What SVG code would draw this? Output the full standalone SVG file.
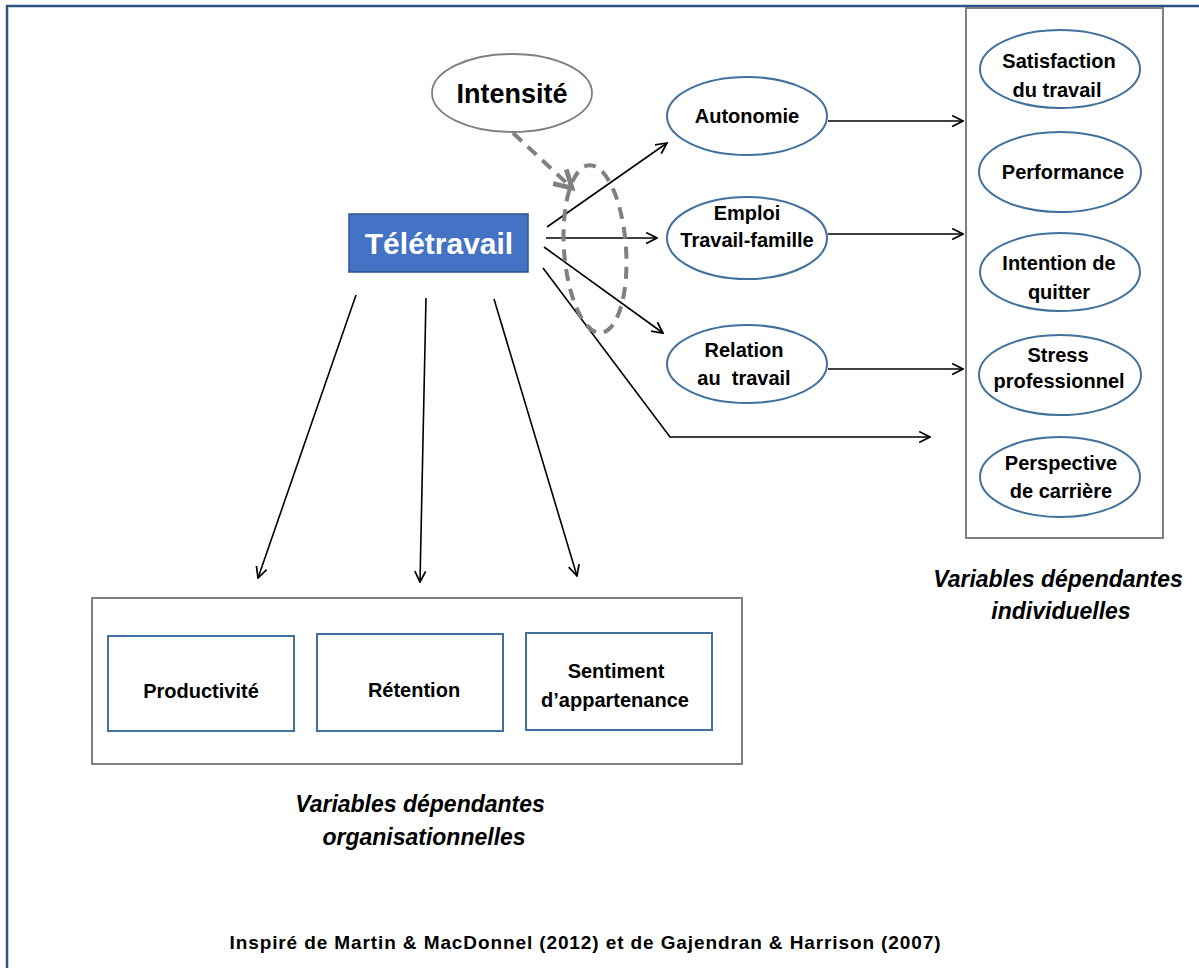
<svg xmlns="http://www.w3.org/2000/svg" width="1199" height="968" viewBox="0 0 1199 968">
<style>
  .lbl { font-family: "Liberation Sans", Arial, sans-serif; font-weight: bold; fill: #000; text-anchor: middle; }
  .s19 { font-size: 20px; }
  .cap { font-family: "Liberation Sans", Arial, sans-serif; font-weight: bold; font-style: italic; font-size: 23px; fill: #000; text-anchor: middle; }
  .ell { fill: #fff; stroke: #41719c; stroke-width: 2; }
  .ibox { fill: #fff; stroke: #41719c; stroke-width: 2; }
  .gbox { fill: none; stroke: #808080; stroke-width: 2; }
  .conn { fill: none; stroke: #000; stroke-width: 1.6; }
  .dash { fill: none; stroke: #808080; stroke-width: 4; stroke-dasharray: 12 8; }
</style>
<defs>
  <marker id="arr" viewBox="0 0 12 12" markerWidth="13" markerHeight="13" refX="11" refY="6" orient="auto" markerUnits="userSpaceOnUse">
    <path d="M1,1 L11,6 L1,11" fill="none" stroke="#000" stroke-width="1.6"/>
  </marker>
  <marker id="garr" viewBox="0 0 20 20" markerWidth="24" markerHeight="24" refX="17" refY="10" orient="auto" markerUnits="userSpaceOnUse">
    <path d="M3,2 L17,10 L3,18" fill="none" stroke="#808080" stroke-width="4"/>
  </marker>
</defs>
<rect width="1199" height="968" fill="#fff"/>
<!-- frame -->
<path d="M7,968 L7,6 L1199,6" fill="none" stroke="#2c5287" stroke-width="2.5"/>

<g id="box-individuelles">
  <rect class="gbox" x="966" y="8" width="197" height="530"/>
</g>
<g id="box-organisationnelles">
  <rect class="gbox" x="92" y="598" width="650" height="166"/>
</g>

<g id="connectors">
  <line class="dash" x1="513" y1="133" x2="572" y2="188" marker-end="url(#garr)"/>
  <line class="conn" x1="547" y1="227" x2="667" y2="143" marker-end="url(#arr)"/>
  <line class="conn" x1="546" y1="238" x2="657" y2="238" marker-end="url(#arr)"/>
  <line class="conn" x1="544" y1="247" x2="663" y2="333" marker-end="url(#arr)"/>
  <polyline class="conn" points="543,268 670,437 930,437" marker-end="url(#arr)"/>
  <line class="conn" x1="828" y1="121" x2="963" y2="121" marker-end="url(#arr)"/>
  <line class="conn" x1="828" y1="234" x2="963" y2="234" marker-end="url(#arr)"/>
  <line class="conn" x1="828" y1="369" x2="963" y2="369" marker-end="url(#arr)"/>
  <line class="conn" x1="356" y1="295" x2="258" y2="578" marker-end="url(#arr)"/>
  <line class="conn" x1="426" y1="298" x2="420" y2="582" marker-end="url(#arr)"/>
  <line class="conn" x1="494" y1="299" x2="577" y2="576" marker-end="url(#arr)"/>
  <ellipse class="dash" cx="595" cy="249" rx="31" ry="84" transform="rotate(-4 595 249)"/>
</g>

<g id="intensite">
  <ellipse cx="512" cy="93" rx="80" ry="39" fill="#fff" stroke="#808080" stroke-width="1.8"/>
  <text class="lbl" x="512" y="103" font-size="27">Intensité</text>
</g>

<g id="teletravail">
  <rect x="349" y="214" width="179" height="58" fill="#4472c4" stroke="#2f528f" stroke-width="1.5"/>
  <text class="lbl" x="439" y="254" font-size="30" style="fill:#fff">Télétravail</text>
</g>

<g id="autonomie">
  <ellipse class="ell" cx="747" cy="116" rx="80" ry="39"/>
  <text class="lbl s19" x="747" y="123">Autonomie</text>
</g>
<g id="emploi">
  <ellipse class="ell" cx="747" cy="238" rx="80" ry="41"/>
  <text class="lbl s19" x="747" y="220">Emploi</text>
  <text class="lbl s19" x="747" y="247">Travail-famille</text>
</g>
<g id="relation">
  <ellipse class="ell" cx="747" cy="364" rx="80" ry="39"/>
  <text class="lbl s19" x="744" y="357">Relation</text>
  <text class="lbl s19" x="744" y="385" xml:space="preserve">au  travail</text>
</g>

<g id="satisfaction">
  <ellipse class="ell" cx="1060" cy="69" rx="80" ry="39"/>
  <text class="lbl s19" x="1059" y="68">Satisfaction</text>
  <text class="lbl s19" x="1057" y="97">du travail</text>
</g>
<g id="performance">
  <ellipse class="ell" cx="1060" cy="172" rx="81" ry="40"/>
  <text class="lbl s19" x="1063" y="179">Performance</text>
</g>
<g id="intention">
  <ellipse class="ell" cx="1060" cy="272" rx="80" ry="39"/>
  <text class="lbl s19" x="1059" y="270">Intention de</text>
  <text class="lbl s19" x="1059" y="299">quitter</text>
</g>
<g id="stress">
  <ellipse class="ell" cx="1060" cy="375" rx="81" ry="40"/>
  <text class="lbl s19" x="1058" y="362">Stress</text>
  <text class="lbl s19" x="1059" y="388">professionnel</text>
</g>
<g id="perspective">
  <ellipse class="ell" cx="1060" cy="477" rx="80" ry="40"/>
  <text class="lbl s19" x="1061" y="470">Perspective</text>
  <text class="lbl s19" x="1061" y="498">de carrière</text>
</g>

<g id="productivite">
  <rect class="ibox" x="108" y="636" width="186" height="95"/>
  <text class="lbl s19" x="201" y="698">Productivité</text>
</g>
<g id="retention">
  <rect class="ibox" x="317" y="634" width="186" height="97"/>
  <text class="lbl s19" x="414" y="697">Rétention</text>
</g>
<g id="sentiment">
  <rect class="ibox" x="526" y="633" width="186" height="97"/>
  <text class="lbl s19" x="616" y="678">Sentiment</text>
  <text class="lbl s19" x="615" y="707">d’appartenance</text>
</g>

<g id="captions">
  <text class="cap" x="1058" y="587">Variables dépendantes</text>
  <text class="cap" x="1061" y="619">individuelles</text>
  <text class="cap" x="420" y="812">Variables dépendantes</text>
  <text class="cap" x="424" y="845">organisationnelles</text>
  <text class="lbl" x="585" y="949" font-size="19" textLength="711" lengthAdjust="spacing">Inspiré de Martin &amp; MacDonnel (2012) et de Gajendran &amp; Harrison (2007)</text>
</g>
</svg>
